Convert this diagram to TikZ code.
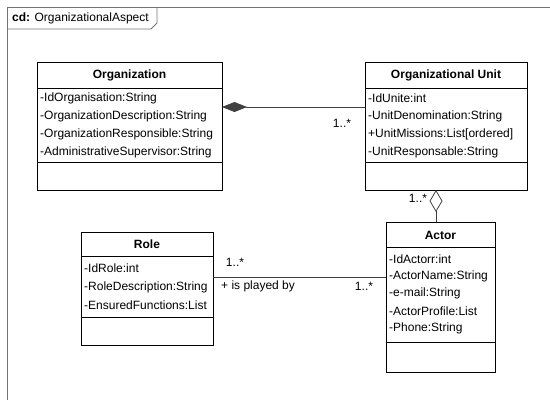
\documentclass[tikz,border=0pt]{standalone}
\usepackage{fontspec}
\setmainfont{Liberation Sans}
\usetikzlibrary{arrows.meta}
\begin{document}
\begin{tikzpicture}[x=1pt,y=-1pt,
  frameline/.style={draw=black!55, line width=0.8pt},
  classbox/.style={draw=black, line width=0.8pt, fill=white, anchor=north west, inner sep=0pt, outer sep=0pt},
  divider/.style={draw=black, line width=0.8pt},
  cname/.style={font=\fontsize{12}{14}\selectfont\bfseries, inner sep=0pt},
  attr/.style={font=\fontsize{12}{14}\selectfont, anchor=west, inner sep=0pt},
  mult/.style={font=\fontsize{12}{14}\selectfont, inner sep=0pt},
  assoc/.style={draw=black!75, line width=0.8pt}]
\useasboundingbox (0,0) rectangle (550,400);

% diagram frame and its name tab
\draw[frameline] (550,7) -- (7,7) -- (7,400);
\draw[frameline] (7,29) -- (151,29) -- (157,23) -- (157,7);
\node[anchor=west, inner sep=0pt, font=\fontsize{12}{14}\selectfont] (frametitle) at (12,18) {\textbf{cd:} OrganizationalAspect};

% class Organization
\node[classbox, minimum width=185pt, minimum height=128pt] (org) at (37,62) {};
\draw[divider] ([yshift=-26pt]org.north west) -- ([yshift=-26pt]org.north east);
\draw[divider] ([yshift=-100pt]org.north west) -- ([yshift=-100pt]org.north east);
\node[cname] (orgname) at ([yshift=-13pt]org.north) {Organization};
\node[attr] (orga1) at ([xshift=3pt,yshift=-36pt]org.north west) {-IdOrganisation:String};
\node[attr] (orga2) at ([xshift=3pt,yshift=-54pt]org.north west) {-OrganizationDescription:String};
\node[attr] (orga3) at ([xshift=3pt,yshift=-72pt]org.north west) {-OrganizationResponsible:String};
\node[attr] (orga4) at ([xshift=3pt,yshift=-90pt]org.north west) {-AdministrativeSupervisor:String};

% class Organizational Unit
\node[classbox, minimum width=162pt, minimum height=128pt] (ou) at (365,62) {};
\draw[divider] ([yshift=-26pt]ou.north west) -- ([yshift=-26pt]ou.north east);
\draw[divider] ([yshift=-100pt]ou.north west) -- ([yshift=-100pt]ou.north east);
\node[cname] (ouname) at ([yshift=-13pt]ou.north) {Organizational Unit};
\node[attr] (oua1) at ([xshift=3pt,yshift=-36pt]ou.north west) {-IdUnite:int};
\node[attr] (oua2) at ([xshift=3pt,yshift=-54pt]ou.north west) {-UnitDenomination:String};
\node[attr] (oua3) at ([xshift=3pt,yshift=-72pt]ou.north west) {+UnitMissions:List[ordered]};
\node[attr] (oua4) at ([xshift=3pt,yshift=-90pt]ou.north west) {-UnitResponsable:String};

% class Role
\node[classbox, minimum width=132pt, minimum height=113pt] (role) at (81,232) {};
\draw[divider] ([yshift=-24pt]role.north west) -- ([yshift=-24pt]role.north east);
\draw[divider] ([yshift=-85pt]role.north west) -- ([yshift=-85pt]role.north east);
\node[cname] (rolename) at ([yshift=-12pt]role.north) {Role};
\node[attr] (rolea1) at ([xshift=3pt,yshift=-36pt]role.north west) {-IdRole:int};
\node[attr] (rolea2) at ([xshift=3pt,yshift=-55pt]role.north west) {-RoleDescription:String};
\node[attr] (rolea3) at ([xshift=3pt,yshift=-73pt]role.north west) {-EnsuredFunctions:List};

% class Actor
\node[classbox, minimum width=109pt, minimum height=150pt] (actor) at (386,222) {};
\draw[divider] ([yshift=-25pt]actor.north west) -- ([yshift=-25pt]actor.north east);
\draw[divider] ([yshift=-120pt]actor.north west) -- ([yshift=-120pt]actor.north east);
\node[cname] (actorname) at ([yshift=-13pt]actor.north) {Actor};
\node[attr] (actora1) at ([xshift=3pt,yshift=-37pt]actor.north west) {-IdActorr:int};
\node[attr] (actora2) at ([xshift=3pt,yshift=-54pt]actor.north west) {-ActorName:String};
\node[attr] (actora3) at ([xshift=3pt,yshift=-71pt]actor.north west) {-e-mail:String};
\node[attr] (actora4) at ([xshift=3pt,yshift=-89pt]actor.north west) {-ActorProfile:List};
\node[attr] (actora5) at ([xshift=3pt,yshift=-106pt]actor.north west) {-Phone:String};

% composition Organization <>-- Organizational Unit
\coordinate (compEnd) at ([yshift=-45pt]org.north east);
\draw[assoc, {Diamond[length=25pt,width=10pt]}-] (compEnd) -- (compEnd -| ou.west);
\node[mult] (compmult) at (342,123) {1..*};

% aggregation Organizational Unit <>-- Actor
\coordinate (aggEnd) at ([xshift=71pt]ou.south west);
\draw[assoc, {Diamond[open,length=22pt,width=13pt]}-] (aggEnd) -- (aggEnd |- actor.north);
\node[mult] (aggmult) at (418,198) {1..*};

% association Role -- Actor
\coordinate (playEnd) at ([yshift=-45pt]role.north east);
\draw[assoc] (playEnd) -- (playEnd -| actor.west);
\node[mult] (playmultrole) at (235,262) {1..*};
\node[mult, anchor=west] (playname) at (221,286) {+ is played by};
\node[mult] (playmultactor) at (364,286) {1..*};
\end{tikzpicture}
\end{document}
